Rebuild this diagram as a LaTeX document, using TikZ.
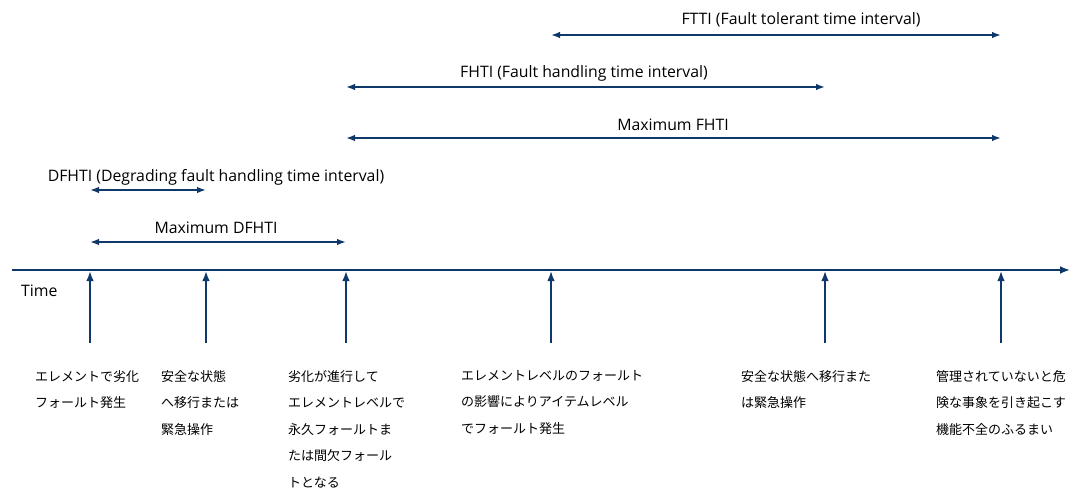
\documentclass[tikz,border=0pt]{standalone}
\usepackage{fontspec}
\setmainfont{Noto Sans CJK JP}
\newfontfamily\labelfont{Open Sans}
\usetikzlibrary{arrows.meta,positioning,calc}
\definecolor{navy}{RGB}{14,56,106}

\begin{document}
\begin{tikzpicture}[x=1pt, y=-1pt,
  font=\fontsize{13}{26.5}\selectfont,
  axis/.style={draw=navy, line width=2pt, -{Latex[length=10pt,width=8pt]}},
  ev/.style={draw=navy, line width=1.6pt, -{Latex[length=10pt,width=7.5pt]}},
  span/.style={draw=navy, line width=1.6pt, {Latex[length=9pt,width=6.5pt]}-{Latex[length=9pt,width=6.5pt]}},
  lbl/.style={inner sep=0pt, font=\labelfont\fontsize{15.8}{18}\selectfont},
  note/.style={anchor=north west, align=left, inner sep=0pt}]
  \useasboundingbox (0,0) rectangle (1086,494);
  \coordinate (t0) at (12,270); \coordinate (t1) at (1070,270);
  \draw[axis] (t0) -- (t1);
  \node[lbl, anchor=west] (time) at (21,291) {Time};
  % events on the time axis
  \foreach \n/\x in {a/90, b/206, c/346, d/551, e/825, f/1001} {
    \coordinate (\n) at (\x,271);
    \coordinate (\n0) at (\x,343);
    \draw[ev] (\n0) -- (\n);
  }
  % intervals
  \draw[span] (d |- 0,35) -- (f |- 0,35);
  \node[lbl] (ftti) at (801,20) {FTTI (Fault tolerant time interval)};
  \draw[span] (c |- 0,87) -- (e |- 0,87);
  \node[lbl] (fhti) at (584,73) {FHTI (Fault handling time interval)};
  \draw[span] (c |- 0,138) -- (f |- 0,138);
  \node[lbl] (mfhti) at (673,125) {Maximum FHTI};
  \draw[span] (a |- 0,190) -- (b |- 0,190);
  \node[lbl] (dfhti) at (216,177) {DFHTI (Degrading fault handling time interval)};
  \draw[span] (a |- 0,242) -- (c |- 0,242);
  \node[lbl] (mdfhti) at (216,228) {Maximum DFHTI};
  % descriptions
  \node[note] (na) at (35,370) {エレメントで劣化\\フォールト発生};
  \node[note] (nb) at (161,370) {安全な状態\\へ移行または\\緊急操作};
  \node[note] (nc) at (288,370) {劣化が進行して\\エレメントレベルで\\永久フォールトま\\たは間欠フォール\\トとなる};
  \node[note] (nd) at (461,370) {エレメントレベルのフォールト\\の影響によりアイテムレベル\\でフォールト発生};
  \node[note] (ne) at (741,370) {安全な状態へ移行また\\は緊急操作};
  \node[note] (nf) at (936,370) {管理されていないと危\\険な事象を引き起こす\\機能不全のふるまい};
\end{tikzpicture}
\end{document}
